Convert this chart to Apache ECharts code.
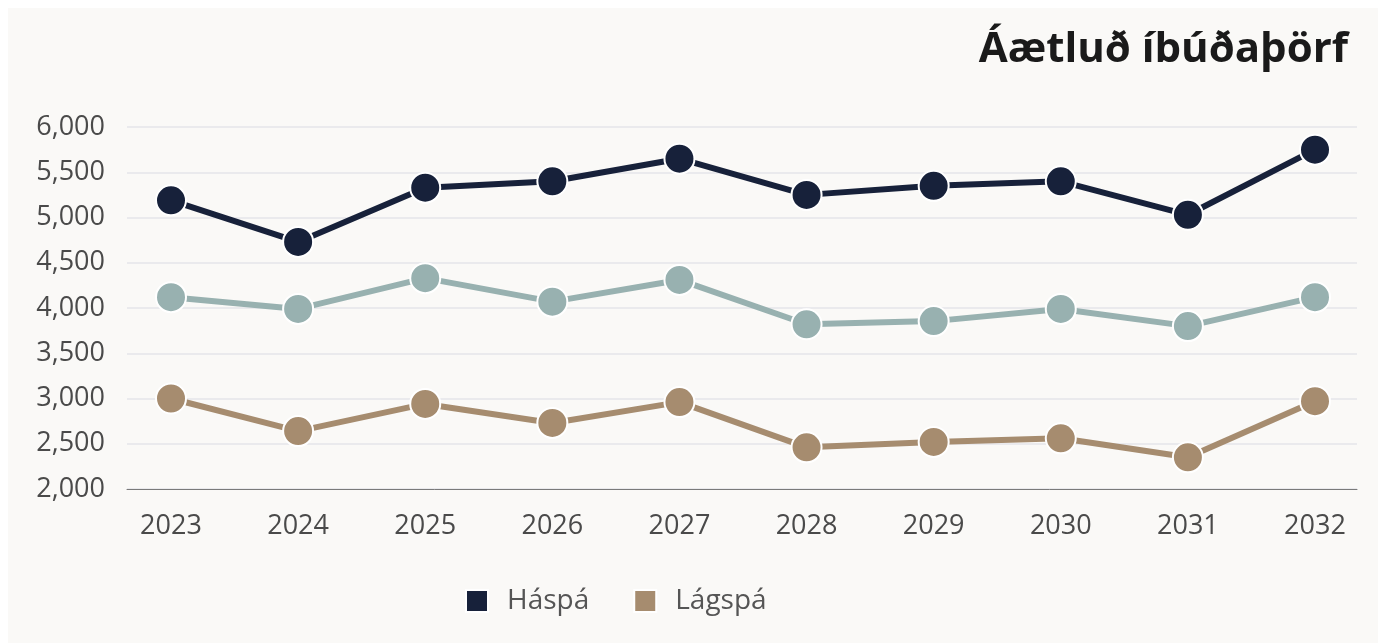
<!DOCTYPE html>
<html><head><meta charset="utf-8">
<script src="https://cdn.jsdelivr.net/npm/echarts@6/dist/echarts.min.js"></script>
<style>
html,body{margin:0;padding:0;background:#fff;width:1384px;height:643px;overflow:hidden}
#c{position:absolute;left:8px;top:8px;width:1370px;height:635px;background:#faf9f7}
</style></head>
<body><div id="c"></div>
<script>
const years = ['2023','2024','2025','2026','2027','2028','2029','2030','2031','2032'];
const haspa = [5190, 4730, 5330, 5400, 5650, 5250, 5350, 5400, 5030, 5750];
const midspa = [4120, 3990, 4330, 4070, 4310, 3820, 3855, 3990, 3800, 4120];
const lagspa = [3000, 2640, 2940, 2730, 2960, 2460, 2520, 2560, 2350, 2970];
const titleText = 'Áætluð íbúðaþörf';

const FONT = '"Open Sans", "Noto Sans", sans-serif';
const chart = echarts.init(document.getElementById('c'));
const symbolStyle = {borderColor:'#ffffff', borderWidth:2};
chart.setOption({
  animation:false,
  title:{text:titleText, right:25, top:16, textStyle:{fontFamily:FONT, fontSize:42, fontWeight:'bold', color:'#1a1a1a'}},
  legend:{data:['Háspá','Lágspá'], left:452, top:574, itemWidth:22, itemHeight:22, itemGap:44,
    icon:'rect', textStyle:{fontFamily:FONT, fontSize:28, color:'#555', padding:[0,0,0,14]}},
  grid:[
    {left:119, right:21, top:119, bottom:154},
    {left:163, right:63, top:119, bottom:154}
  ],
  xAxis:[
    {type:'category', gridIndex:0, data:years, boundaryGap:false, axisLine:{lineStyle:{color:'#7a7a7a', width:1}},
      axisTick:{show:false}, axisLabel:{show:false}, splitLine:{show:false}},
    {type:'category', gridIndex:1, data:years, boundaryGap:false, axisLine:{show:false}, axisTick:{show:false},
      axisLabel:{fontFamily:FONT, fontSize:27, color:'#4a4a4a', margin:24}, splitLine:{show:false}}
  ],
  yAxis:[
    {type:'value', gridIndex:0, min:2000, max:6000, interval:500, axisLine:{show:false}, axisTick:{show:false},
      axisLabel:{fontFamily:FONT, fontSize:27, color:'#4a4a4a', margin:22,
        formatter:v=>v.toLocaleString('en-US')},
      splitLine:{lineStyle:{color:'#e4e5ea', width:1.5}}},
    {type:'value', gridIndex:1, min:2000, max:6000, interval:500, show:false, splitLine:{show:false}}
  ],
  series:[
    {name:'Háspá', type:'line', xAxisIndex:1, yAxisIndex:1, data:haspa, color:'#17213a',
      symbol:'circle', symbolSize:30, lineStyle:{width:6}, itemStyle:symbolStyle, z:5},
    {name:'Miðspá', type:'line', xAxisIndex:1, yAxisIndex:1, data:midspa, color:'#98b1b0',
      symbol:'circle', symbolSize:30, lineStyle:{width:6}, itemStyle:symbolStyle, z:4},
    {name:'Lágspá', type:'line', xAxisIndex:1, yAxisIndex:1, data:lagspa, color:'#a68c6f',
      symbol:'circle', symbolSize:30, lineStyle:{width:6}, itemStyle:symbolStyle, z:3}
  ]
});
</script></body></html>
